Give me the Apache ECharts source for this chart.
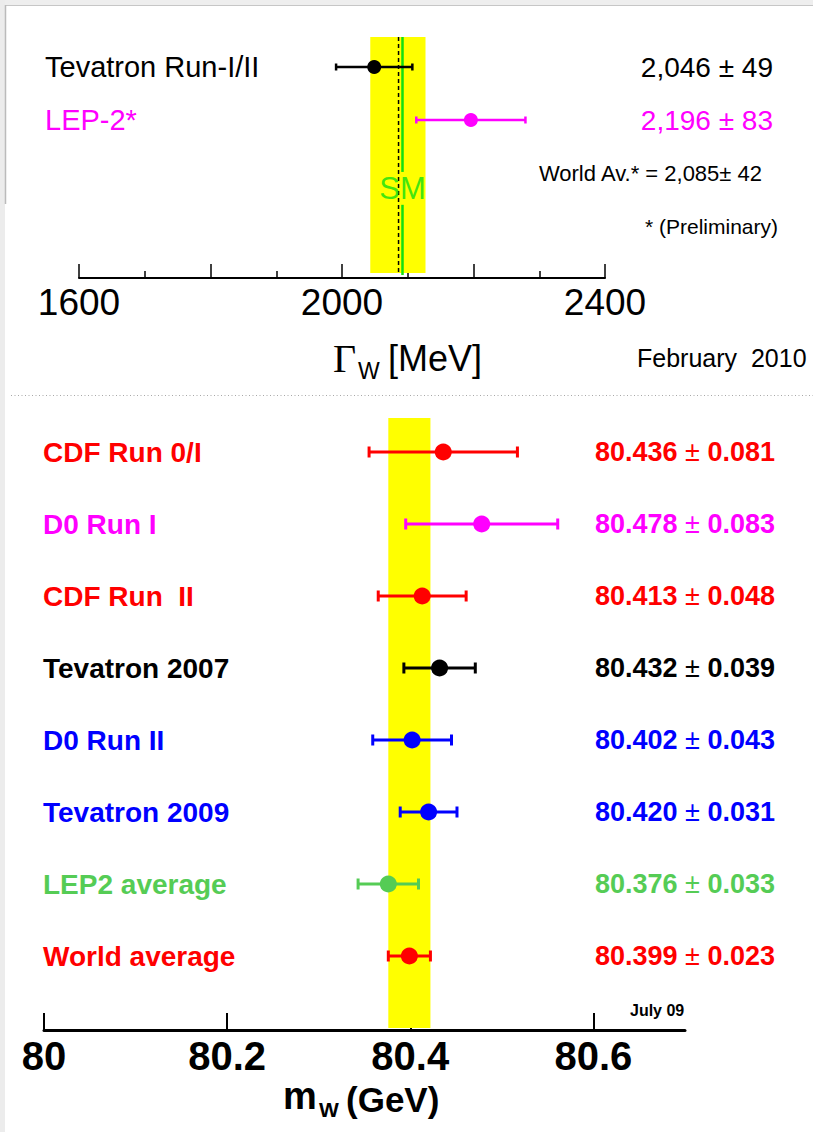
<!DOCTYPE html>
<html>
<head>
<meta charset="utf-8">
<script src="https://cdn.jsdelivr.net/npm/echarts@6.0.0/dist/echarts.min.js"></script>
<style>
html,body{margin:0;padding:0;background:#fff;}
#c{width:813px;height:1132px;}
</style>
</head>
<body>
<div id="c"></div>
<script>
// ---------- DATA: W width panel ----------
const wNames = ['Tevatron Run-I/II', 'LEP-2*'];
const wCenters = [2049, 2196];
const wLows = [1991, 2113];
const wHighs = [2107, 2279];
const wValueLabels = ['2,046 \u00b1 49', '2,196 \u00b1 83'];
const wNotes = ['World Av.* = 2,085\u00b1 42', '* (Preliminary)'];
const wWorldAv = [2043, 2127];      // yellow band (world average +- error)
const wWorldAvCenter = 2086;        // dashed line
const wSM = 2092;                   // SM prediction (green)
const wTickLabels = [1600, 2000, 2400];

// ---------- DATA: W mass panel ----------
const mNames = ['CDF Run 0/I', 'D0 Run I', 'CDF Run\u00a0 II', 'Tevatron 2007', 'D0 Run II', 'Tevatron 2009', 'LEP2 average', 'World average'];
const mCenters = [80.436, 80.478, 80.413, 80.432, 80.402, 80.420, 80.376, 80.399];
const mErrors = [0.081, 0.083, 0.048, 0.039, 0.043, 0.031, 0.033, 0.023];
const mValueLabels = ['80.436 \u00b1 0.081', '80.478 \u00b1 0.083', '80.413 \u00b1 0.048', '80.432 \u00b1 0.039', '80.402 \u00b1 0.043', '80.420 \u00b1 0.031', '80.376 \u00b1 0.033', '80.399 \u00b1 0.023'];
const mBand = [80.376, 80.422];
const mTickLabels = [80, 80.2, 80.4, 80.6];

// ---------- STYLES ----------
const wColors = ['#000000', '#ff00ff'];
const mColors = ['#ff0000', '#ff00ff', '#ff0000', '#000000', '#0000ff', '#0000ff', '#55cc55', '#ff0000'];
const FONT = "'Liberation Sans', Arial, Helvetica, sans-serif";
const SM_GREEN = '#10e010';

// ---------- LAYOUT ----------
const topGrid = {left: 79, right: 208, top: 14, height: 264};
const topRowPx = 53;
const botGrid = {left: 44, right: 128, top: 380, height: 650};
const botRowPx = 72;
const topBandRows = [0.434, 4.887];
const topLineRows = [0.434, 4.925];
const smGapRows = [2.98, 3.6];
const botBandRows = [0.528, 9.0];

function errRender(capH, lw) {
  return function (params, api) {
    const row = api.value(2);
    const p0 = api.coord([api.value(0), row]);
    const p1 = api.coord([api.value(1), row]);
    const color = api.visual('color');
    const st = {stroke: color, lineWidth: lw};
    return {
      type: 'group',
      children: [
        {type: 'line', shape: {x1: p0[0], y1: p0[1], x2: p1[0], y2: p1[1]}, style: st},
        {type: 'line', shape: {x1: p0[0], y1: p0[1] - capH / 2, x2: p0[0], y2: p0[1] + capH / 2}, style: st},
        {type: 'line', shape: {x1: p1[0], y1: p1[1] - capH / 2, x2: p1[0], y2: p1[1] + capH / 2}, style: st}
      ]
    };
  };
}
function bandRender(params, api) {
  const a = api.coord([api.value(0), api.value(2)]);
  const b = api.coord([api.value(1), api.value(3)]);
  return {type: 'rect', shape: {x: a[0], y: a[1], width: b[0] - a[0], height: b[1] - a[1]}, style: {fill: '#ffff00'}};
}
function vlineRender(dash, color, lw) {
  return function (params, api) {
    const a = api.coord([api.value(0), api.value(1)]);
    const b = api.coord([api.value(0), api.value(2)]);
    return {type: 'line', shape: {x1: a[0], y1: a[1], x2: b[0], y2: b[1]}, style: {stroke: color, lineWidth: lw, lineDash: dash}};
  };
}

// rich styles for labels
const wLeftRich = {}, wRightRich = {}, mLeftRich = {}, mRightRich = {};
wColors.forEach((c, i) => {
  wLeftRich['r' + i] = {color: c, fontSize: 29, fontFamily: FONT};
  wRightRich['r' + i] = {color: c, fontSize: 28, fontFamily: FONT, padding: [0, 5, 0, 0]};
});
wRightRich.n0 = {color: '#000', fontSize: 22, fontFamily: FONT, padding: [0, 16, 0, 0]};
wRightRich.n1 = {color: '#000', fontSize: 21, fontFamily: FONT};
mColors.forEach((c, i) => {
  mLeftRich['r' + i] = {color: c, fontSize: 28, fontWeight: 'bold', fontFamily: FONT};
  mRightRich['r' + i] = {color: c, fontSize: 27, fontWeight: 'bold', fontFamily: FONT};
  mRightRich['p' + i] = {color: c, fontSize: 27, fontWeight: 'normal', fontFamily: FONT};
});

function rowIndex(v, n) {
  const i = Math.round(v);
  return (Math.abs(v - i) < 1e-6 && i >= 1 && i <= n) ? i - 1 : -1;
}

const hiddenY = {
  type: 'value', inverse: true, min: 0, interval: 1,
  axisLine: {show: false}, axisTick: {show: false}, splitLine: {show: false}
};

const option = {
  animation: false,
  backgroundColor: '#ffffff',
  grid: [
    {left: topGrid.left, right: topGrid.right, top: topGrid.top, height: topGrid.height},
    {left: botGrid.left, right: botGrid.right, top: botGrid.top, height: botGrid.height}
  ],
  xAxis: [
    {
      gridIndex: 0, type: 'value', position: 'bottom', min: 1600, max: 2400, interval: 200,
      axisLine: {onZero: false, lineStyle: {color: '#000', width: 2}},
      axisTick: {inside: true, length: 14, lineStyle: {color: '#000', width: 1.5}},
      minorTick: {show: true, splitNumber: 2, length: 7, lineStyle: {color: '#000', width: 1.5}},
      splitLine: {show: false}, minorSplitLine: {show: false},
      axisLabel: {
        customValues: wTickLabels, margin: 6,
        fontSize: 37, color: '#000', fontFamily: FONT,
        formatter: v => String(v)
      }
    },
    {
      gridIndex: 1, type: 'value', position: 'bottom', min: 80, max: 80.7, interval: 0.2,
      axisLine: {onZero: false, lineStyle: {color: '#000', width: 3}},
      axisTick: {inside: true, length: 17, customValues: mTickLabels, lineStyle: {color: '#000', width: 2}},
      splitLine: {show: false},
      axisLabel: {
        customValues: mTickLabels, margin: 6,
        fontSize: 40, fontWeight: 'bold', color: '#000', fontFamily: FONT,
        formatter: v => String(Math.round(v * 10) / 10)
      }
    }
  ],
  yAxis: [
    Object.assign({}, hiddenY, {
      gridIndex: 0, max: topGrid.height / topRowPx, position: 'left', offset: 34,
      axisLabel: {inside: true, margin: 0, rich: wLeftRich,
        formatter: v => { const i = rowIndex(v, wNames.length); return i < 0 ? '' : '{r' + i + '|' + wNames[i] + '}'; }}
    }),
    Object.assign({}, hiddenY, {
      gridIndex: 0, max: topGrid.height / topRowPx, position: 'right', offset: 173,
      axisLabel: {inside: true, margin: 0, rich: wRightRich,
        formatter: v => {
          const i = rowIndex(v, wValueLabels.length + wNotes.length);
          if (i < 0) return '';
          if (i < wValueLabels.length) return '{r' + i + '|' + wValueLabels[i] + '}';
          const k = i - wValueLabels.length;
          return '{n' + k + '|' + wNotes[k] + '}';
        }}
    }),
    Object.assign({}, hiddenY, {
      gridIndex: 1, max: botGrid.height / botRowPx, position: 'left', offset: 1,
      axisLabel: {inside: true, margin: 0, rich: mLeftRich,
        formatter: v => { const i = rowIndex(v, mNames.length); return i < 0 ? '' : '{r' + i + '|' + mNames[i] + '}'; }}
    }),
    Object.assign({}, hiddenY, {
      gridIndex: 1, max: botGrid.height / botRowPx, position: 'right', offset: 90,
      axisLabel: {inside: true, margin: 0, rich: mRightRich,
        formatter: v => {
          const i = rowIndex(v, mValueLabels.length);
          if (i < 0) return '';
          const parts = mValueLabels[i].split('\u00b1');
          return '{r' + i + '|' + parts[0] + '}{p' + i + '|\u00b1}{r' + i + '|' + parts[1] + '}';
        }}
    })
  ],
  series: [
    // ---- top panel ----
    {type: 'custom', xAxisIndex: 0, yAxisIndex: 0, renderItem: bandRender, z: 1,
      data: [[wWorldAv[0], wWorldAv[1], topBandRows[0], topBandRows[1]]]},
    {type: 'custom', xAxisIndex: 0, yAxisIndex: 0, renderItem: vlineRender([4, 3], '#000', 1.5), z: 2,
      data: [[wWorldAvCenter, topLineRows[0], topLineRows[1]]]},
    {type: 'custom', xAxisIndex: 0, yAxisIndex: 0, renderItem: vlineRender(null, SM_GREEN, 2.5), z: 2,
      data: [[wSM, topLineRows[0], smGapRows[0]], [wSM, smGapRows[1], topLineRows[1]]]},
    {type: 'scatter', xAxisIndex: 0, yAxisIndex: 0, symbolSize: 0, z: 3, silent: true,
      data: [[wSM, (smGapRows[0] + smGapRows[1]) / 2]],
      label: {show: true, position: 'inside', formatter: 'SM', color: SM_GREEN, fontSize: 31, fontFamily: FONT}},
    {type: 'custom', xAxisIndex: 0, yAxisIndex: 0, renderItem: errRender(7, 2.5), z: 4,
      data: wNames.map((n, i) => ({value: [wLows[i], wHighs[i], i + 1], itemStyle: {color: wColors[i]}}))},
    {type: 'scatter', xAxisIndex: 0, yAxisIndex: 0, symbol: 'circle', symbolSize: 14, z: 5,
      data: wNames.map((n, i) => ({value: [wCenters[i], i + 1], itemStyle: {color: wColors[i], opacity: 1}}))},
    // ---- bottom panel ----
    {type: 'custom', xAxisIndex: 1, yAxisIndex: 2, renderItem: bandRender, z: 1,
      data: [[mBand[0], mBand[1], botBandRows[0], botBandRows[1]]]},
    {type: 'custom', xAxisIndex: 1, yAxisIndex: 2, renderItem: errRender(11, 3), z: 4,
      data: mNames.map((n, i) => ({value: [mCenters[i] - mErrors[i], mCenters[i] + mErrors[i], i + 1], itemStyle: {color: mColors[i]}}))},
    {type: 'scatter', xAxisIndex: 1, yAxisIndex: 2, symbol: 'circle', symbolSize: 17, z: 5,
      data: mNames.map((n, i) => ({value: [mCenters[i], i + 1], itemStyle: {color: mColors[i], opacity: 1}}))}
  ],
  graphic: [
    // frame decorations
    {type: 'rect', shape: {x: 0, y: 0, width: 813, height: 5}, style: {fill: '#eeeeee'}, silent: true},
    {type: 'rect', shape: {x: 0, y: 0, width: 5, height: 1132}, style: {fill: '#ececec'}, silent: true},
    {type: 'line', shape: {x1: 5, y1: 5.5, x2: 813, y2: 5.5}, style: {stroke: '#c6c6c6', lineWidth: 1}, silent: true},
    {type: 'line', shape: {x1: 5.5, y1: 5, x2: 5.5, y2: 204}, style: {stroke: '#bbbbbb', lineWidth: 1.5}, silent: true},
    {type: 'line', shape: {x1: 11, y1: 395.5, x2: 813, y2: 395.5}, style: {stroke: '#a8a8a8', lineWidth: 1, lineDash: [1, 2.5]}, silent: true},
    // axis titles and notes
    {type: 'text', x: 333, y: 358, style: {text: '\u0393', fontSize: 40, fontFamily: "'Liberation Serif', 'Times New Roman', serif", fill: '#000', verticalAlign: 'middle'}},
    {type: 'text', x: 358, y: 371, style: {text: 'W', fontSize: 23, fontFamily: FONT, fill: '#000', verticalAlign: 'middle'}},
    {type: 'text', x: 388, y: 358, style: {text: '[MeV]', fontSize: 36, fontFamily: FONT, fill: '#000', verticalAlign: 'middle'}},
    {type: 'text', x: 637, y: 358, style: {text: 'February\u00a0 2010', fontSize: 25, fontFamily: FONT, fill: '#000', verticalAlign: 'middle'}},
    {type: 'text', x: 630, y: 1010, style: {text: 'July 09', fontSize: 16, fontWeight: 'bold', fontFamily: FONT, fill: '#000', verticalAlign: 'middle'}},
    {type: 'text', x: 283, y: 1096, style: {text: 'm', fontSize: 38, fontWeight: 'bold', fontFamily: FONT, fill: '#000', verticalAlign: 'middle'}},
    {type: 'text', x: 319, y: 1109, style: {text: 'W', fontSize: 21, fontWeight: 'bold', fontFamily: FONT, fill: '#000', verticalAlign: 'middle'}},
    {type: 'text', x: 346, y: 1099, style: {text: '(GeV)', fontSize: 35, fontWeight: 'bold', fontFamily: FONT, fill: '#000', verticalAlign: 'middle'}}
  ]
};

const chart = echarts.init(document.getElementById('c'), null, {renderer: 'svg', width: 813, height: 1132});
chart.setOption(option);
</script>
</body>
</html>
